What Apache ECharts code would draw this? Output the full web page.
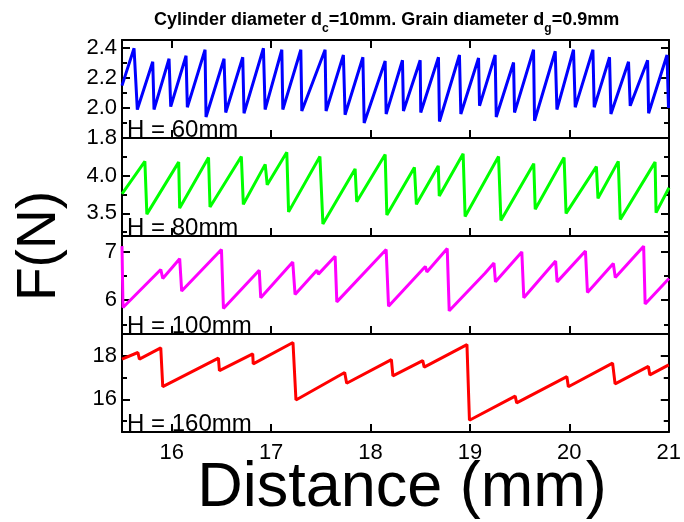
<!DOCTYPE html>
<html>
<head>
<meta charset="utf-8">
<script src="https://cdn.jsdelivr.net/npm/echarts@6/dist/echarts.min.js"></script>
<style>
  html, body { margin: 0; padding: 0; background: #fff; }
  #chart { width: 684px; height: 522px; }
</style>
</head>
<body>
<div id="chart"></div>
<script>
// Friction force traces vs. distance for four filling heights.
const xTicks = [16, 17, 18, 19, 20, 21];

// H = 60 mm
const blueX = [15.50, 15.621, 15.654, 15.809, 15.822, 15.973, 15.990, 16.144, 16.157, 16.335, 16.345,
  16.526, 16.543, 16.714, 16.727, 16.922, 16.939, 17.107, 17.117, 17.298, 17.308, 17.542, 17.552,
  17.726, 17.743, 17.922, 17.935, 18.146, 18.156, 18.320, 18.330, 18.498, 18.504, 18.682, 18.692,
  18.893, 18.907, 19.085, 19.095, 19.252, 19.263, 19.437, 19.447, 19.638, 19.648, 19.856, 19.873,
  20.040, 20.057, 20.235, 20.248, 20.402, 20.416, 20.593, 20.610, 20.785, 20.795, 20.980, 20.995];
const blueF = [2.15, 2.40, 1.99, 2.31, 1.99, 2.33, 2.01, 2.35, 2.005, 2.39, 1.94,
  2.33, 1.97, 2.34, 1.965, 2.40, 1.99, 2.39, 1.99, 2.39, 1.98, 2.39, 1.98,
  2.355, 1.955, 2.34, 1.90, 2.315, 1.96, 2.32, 1.98, 2.32, 1.97, 2.34, 1.91,
  2.355, 1.96, 2.335, 2.015, 2.355, 1.94, 2.305, 1.97, 2.39, 1.915, 2.38, 1.99,
  2.39, 2.005, 2.39, 2.005, 2.34, 1.96, 2.31, 2.015, 2.32, 1.965, 2.355, 2.00];

// H = 80 mm
const greenX = [15.50, 15.73, 15.75, 16.07, 16.08, 16.37, 16.385, 16.70, 16.72, 16.94, 16.96,
  17.157, 17.175, 17.49, 17.52, 17.844, 17.86, 18.146, 18.163, 18.44, 18.46, 18.68, 18.69,
  18.93, 18.95, 19.286, 19.31, 19.64, 19.655, 19.945, 19.965, 20.27, 20.286, 20.49, 20.51,
  20.86, 20.87, 21.0];
const greenF = [3.76, 4.19, 3.49, 4.18, 3.57, 4.24, 3.585, 4.255, 3.62, 4.15, 3.88,
  4.31, 3.52, 4.255, 3.36, 4.09, 3.655, 4.28, 3.48, 4.11, 3.62, 4.13, 3.73,
  4.29, 3.46, 4.255, 3.405, 4.16, 3.555, 4.24, 3.50, 4.12, 3.70, 4.19, 3.42,
  4.18, 3.51, 3.84];

// H = 100 mm
const magentaX = [15.50, 15.51, 15.53, 15.89, 15.91, 16.08, 16.10, 16.50, 16.52, 16.88, 16.895,
  17.217, 17.24, 17.46, 17.475, 17.643, 17.66, 18.156, 18.18, 18.55, 18.565, 18.77, 18.79,
  19.15, 19.16, 19.24, 19.255, 19.52, 19.54, 19.86, 19.875, 20.16, 20.18, 20.44, 20.46,
  20.745, 20.76, 21.0];
const magentaF = [7.12, 5.85, 5.81, 6.635, 6.45, 6.86, 6.19, 7.05, 5.83, 6.62, 6.05,
  6.79, 6.12, 6.62, 6.54, 6.91, 5.965, 7.05, 5.875, 6.70, 6.585, 7.07, 5.78,
  6.56, 6.52, 6.77, 6.38, 7.0, 6.05, 6.81, 6.38, 7.02, 6.16, 6.76, 6.47,
  7.12, 5.92, 6.45];

// H = 160 mm
const redX = [15.50, 15.66, 15.675, 15.89, 15.91, 16.47, 16.48, 16.815, 16.82, 17.22, 17.25,
  17.74, 17.76, 18.21, 18.225, 18.525, 18.54, 18.97, 18.995, 19.455, 19.47, 19.975, 19.99,
  20.435, 20.46, 20.795, 20.81, 21.0];
const redF = [17.85, 18.15, 17.85, 18.36, 16.58, 17.89, 17.32, 18.09, 17.63, 18.61, 15.97,
  17.23, 16.74, 17.82, 17.08, 17.78, 17.48, 18.51, 15.04, 16.15, 15.84, 17.04, 16.58,
  17.66, 16.71, 17.51, 17.12, 17.58];

// Per-panel y axis: range, labelled ticks, minor ticks
const panelNames = ['H = 60mm', 'H = 80mm', 'H = 100mm', 'H = 160mm'];
const panelColors = ['#0000ff', '#00ff00', '#ff00ff', '#ff0000'];
const yMin = [1.8, 3.2, 5.3, 14.5];
const yMax = [2.455, 4.5, 7.33, 19.0];
const yMajor = [[1.8, 2.0, 2.2, 2.4], [3.5, 4.0], [6, 7], [16, 18]];
const yMinor = [[1.9, 2.1, 2.3], [3.25, 3.75, 4.25], [5.5, 6.5], [15, 17, 19]];
const yLabelDigits = [1, 1, 0, 0];

const xs = [blueX, greenX, magentaX, redX];
const ys = [blueF, greenF, magentaF, redF];

const FONT = 'Liberation Sans, Arial, sans-serif';
const TOP = 40, H = 98, LEFT = 122, RIGHT = 15;

const grid = [], xAxis = [], yAxis = [], series = [], graphic = [];
const line = { lineStyle: { color: '#000', width: 2 } };

for (let i = 0; i < 4; i++) {
  grid.push({ left: LEFT, right: RIGHT, top: TOP + H * i, height: H });

  xAxis.push({
    gridIndex: i, type: 'value', min: 15.5, max: 21, position: 'bottom',
    axisLine: line,
    axisTick: { inside: true, length: 8, customValues: xTicks, lineStyle: { color: '#000', width: 2 } },
    axisLabel: { show: i === 3, customValues: xTicks, fontSize: 22, fontFamily: FONT, color: '#000', margin: 10 },
    splitLine: { show: false }
  });
  xAxis.push({
    gridIndex: i, type: 'value', min: 15.5, max: 21, position: 'top',
    axisLine: line,
    axisTick: { show: i === 0, inside: true, length: 8, customValues: xTicks, lineStyle: { color: '#000', width: 2 } },
    axisLabel: { show: false },
    splitLine: { show: false }
  });

  const digits = yLabelDigits[i];
  ['left', 'right'].forEach(function (side) {
    yAxis.push({
      gridIndex: i, type: 'value', min: yMin[i], max: yMax[i], position: side,
      axisLine: line,
      axisTick: { inside: true, length: 8, customValues: yMajor[i], lineStyle: { color: '#000', width: 2 } },
      axisLabel: {
        show: side === 'left', customValues: yMajor[i], fontSize: 22, fontFamily: FONT, color: '#000', margin: 5,
        formatter: function (v) { return Number(v).toFixed(digits); }
      },
      splitLine: { show: false }
    });
    yAxis.push({
      gridIndex: i, type: 'value', min: yMin[i], max: yMax[i], position: side,
      axisLine: { show: false },
      axisTick: { inside: true, length: 5, customValues: yMinor[i], lineStyle: { color: '#000', width: 2 } },
      axisLabel: { show: false, customValues: yMinor[i] },
      splitLine: { show: false }
    });
  });

  const data = xs[i].map(function (x, k) { return [x, ys[i][k]]; });
  series.push({
    type: 'line', xAxisIndex: 2 * i, yAxisIndex: 4 * i, data: data,
    showSymbol: false, symbol: 'none', animation: false,
    lineStyle: { color: panelColors[i], width: 3 }
  });

  graphic.push({
    type: 'text', x: LEFT + 5, y: TOP + H * (i + 1) + 4, z: 10,
    style: { text: panelNames[i], fontSize: 24, fontFamily: FONT, fill: '#000', textAlign: 'left', textVerticalAlign: 'bottom' }
  });
}

graphic.push({
  type: 'text', x: 402, y: 489,
  style: { text: 'Distance (mm)', fontSize: 63, fontFamily: FONT, fill: '#000', textAlign: 'center', textVerticalAlign: 'middle' }
});
graphic.push({
  type: 'text', x: 40, y: 246, rotation: Math.PI / 2,
  style: { text: 'F(N)', fontSize: 55, fontFamily: FONT, fill: '#000', textAlign: 'center', textVerticalAlign: 'middle' }
});

const chart = echarts.init(document.getElementById('chart'), null, { renderer: 'canvas' });
chart.setOption({
  animation: false,
  backgroundColor: '#fff',
  title: {
    text: '{b|Cylinder diameter d}{s|c}{b|=10mm. Grain diameter d}{s|g}{b|=0.9mm}',
    left: 149, top: 6,
    textStyle: {
      rich: {
        b: { fontSize: 18, fontWeight: 'bold', fontFamily: FONT, color: '#000', lineHeight: 20, verticalAlign: 'top' },
        s: { fontSize: 12, fontWeight: 'bold', fontFamily: FONT, color: '#000', lineHeight: 12, padding: [12, 0, 0, 0], verticalAlign: 'top' }
      }
    }
  },
  grid: grid, xAxis: xAxis, yAxis: yAxis, series: series, graphic: graphic
});
</script>
</body>
</html>
